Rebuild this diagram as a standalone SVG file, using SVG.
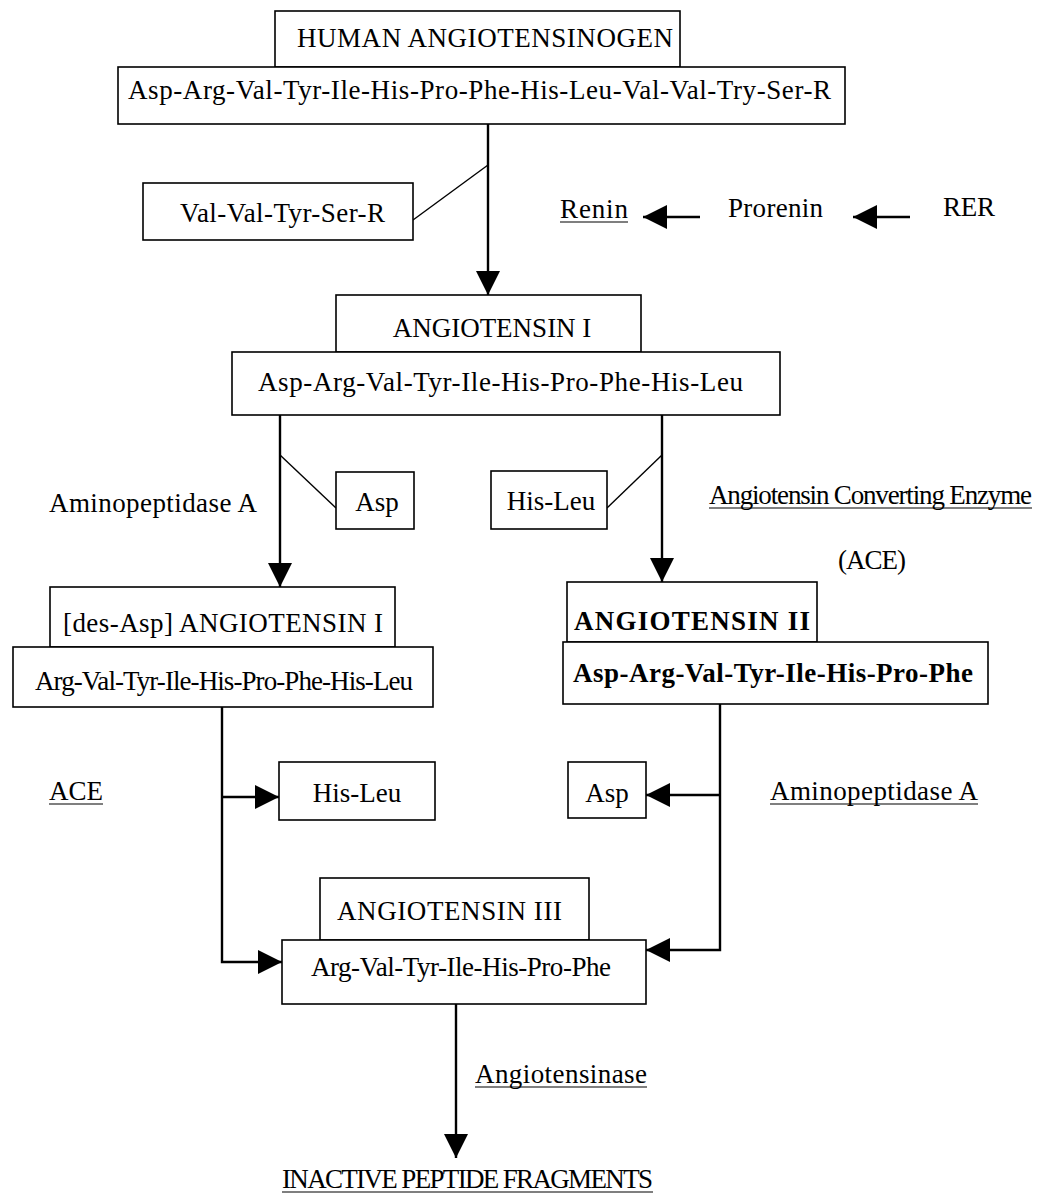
<svg xmlns="http://www.w3.org/2000/svg" width="1041" height="1202" viewBox="0 0 1041 1202">
<defs>
<marker id="ah" viewBox="0 0 24 24" refX="24" refY="12" markerWidth="24" markerHeight="24" markerUnits="userSpaceOnUse" orient="auto">
<path d="M0,0 L24,12 L0,24 z" fill="#000"/>
</marker>
</defs>
<style>
rect{fill:#fff;stroke:#000;stroke-width:1.6}
text{font-family:"Liberation Serif","Times New Roman",serif;font-size:27px;fill:#000}
.b{font-weight:bold}
.c{stroke:#000;stroke-width:2.4;fill:none}
.t{stroke:#000;stroke-width:1.4;fill:none}
.u{stroke:#000;stroke-width:1.2}
</style>
<rect width="1041" height="1202" style="fill:#fff;stroke:none"/>
<g id="connectors">
<line class="c" x1="488" y1="124" x2="488" y2="295" marker-end="url(#ah)"/>
<line class="t" x1="488" y1="165" x2="413" y2="220"/>
<line class="c" x1="700" y1="217" x2="643" y2="217" marker-end="url(#ah)"/>
<line class="c" x1="910" y1="217" x2="853" y2="217" marker-end="url(#ah)"/>
<line class="c" x1="280" y1="415" x2="280" y2="587" marker-end="url(#ah)"/>
<line class="t" x1="280" y1="455" x2="336" y2="508"/>
<line class="c" x1="662" y1="415" x2="662" y2="582" marker-end="url(#ah)"/>
<line class="t" x1="662" y1="455" x2="607" y2="508"/>
<polyline class="c" points="222,707 222,962 282,962" marker-end="url(#ah)"/>
<line class="c" x1="222" y1="797" x2="279" y2="797" marker-end="url(#ah)"/>
<polyline class="c" points="720,704 720,950 646,950" marker-end="url(#ah)"/>
<line class="c" x1="720" y1="795" x2="646" y2="795" marker-end="url(#ah)"/>
<line class="c" x1="456" y1="1004" x2="456" y2="1158" marker-end="url(#ah)"/>
</g>
<g id="n-human">
<rect x="275" y="11" width="405" height="56"/>
<text x="297" y="47" textLength="376" font-size="26">HUMAN ANGIOTENSINOGEN</text>
</g>
<g id="n-agt-seq">
<rect x="118" y="67" width="727" height="57"/>
<text x="128" y="99" textLength="703" font-size="28">Asp-Arg-Val-Tyr-Ile-His-Pro-Phe-His-Leu-Val-Val-Try-Ser-R</text>
</g>
<g id="n-valval">
<rect x="143" y="183" width="270" height="57"/>
<text x="180" y="222" textLength="205">Val-Val-Tyr-Ser-R</text>
</g>
<g id="n-renin">
<text x="560" y="218" textLength="68">Renin</text>
<line class="u" x1="560" y1="222" x2="628" y2="222"/>
</g>
<g id="n-prorenin"><text x="728" y="217" textLength="95">Prorenin</text></g>
<g id="n-rer"><text x="943" y="216" textLength="52">RER</text></g>
<g id="n-ang1">
<rect x="336" y="295" width="305" height="57"/>
<text x="492" y="337" text-anchor="middle" font-size="25">ANGIOTENSIN I</text>
</g>
<g id="n-ang1-seq">
<rect x="232" y="352" width="548" height="63"/>
<text x="258" y="391" textLength="485" font-size="28">Asp-Arg-Val-Tyr-Ile-His-Pro-Phe-His-Leu</text>
</g>
<g id="n-apa1"><text x="49" y="512" textLength="208">Aminopeptidase A</text></g>
<g id="n-asp1">
<rect x="336" y="472" width="78" height="57"/>
<text x="377" y="511" text-anchor="middle">Asp</text>
</g>
<g id="n-hisleu1">
<rect x="491" y="471" width="116" height="58"/>
<text x="551" y="510" text-anchor="middle">His-Leu</text>
</g>
<g id="n-ace-full">
<text x="709" y="504" textLength="323" font-size="24.5">Angiotensin Converting Enzyme</text>
<line class="u" x1="709" y1="508" x2="1032" y2="508"/>
</g>
<g id="n-ace-abbr"><text x="838" y="569" textLength="68">(ACE)</text></g>
<g id="n-desasp">
<rect x="50" y="587" width="345" height="60"/>
<text x="63" y="632" textLength="320">[des-Asp] ANGIOTENSIN I</text>
</g>
<g id="n-desasp-seq">
<rect x="13" y="647" width="420" height="60"/>
<text x="35" y="690" textLength="378" font-size="24.6">Arg-Val-Tyr-Ile-His-Pro-Phe-His-Leu</text>
</g>
<g id="n-ang2">
<rect x="567" y="582" width="250" height="60"/>
<text x="574" y="630" textLength="236" class="b" font-size="27">ANGIOTENSIN II</text>
</g>
<g id="n-ang2-seq">
<rect x="563" y="642" width="425" height="62"/>
<text x="573" y="682" textLength="400" class="b" font-size="27.6">Asp-Arg-Val-Tyr-Ile-His-Pro-Phe</text>
</g>
<g id="n-ace2">
<text x="49" y="800" textLength="54">ACE</text>
<line class="u" x1="49" y1="804" x2="103" y2="804"/>
</g>
<g id="n-hisleu2">
<rect x="279" y="762" width="156" height="58"/>
<text x="357" y="802" text-anchor="middle">His-Leu</text>
</g>
<g id="n-asp2">
<rect x="568" y="762" width="78" height="56"/>
<text x="607" y="802" text-anchor="middle">Asp</text>
</g>
<g id="n-apa2">
<text x="770" y="800" textLength="208">Aminopeptidase A</text>
<line class="u" x1="770" y1="804" x2="978" y2="804"/>
</g>
<g id="n-ang3">
<rect x="320" y="878" width="269" height="62"/>
<text x="337" y="920" textLength="225">ANGIOTENSIN III</text>
</g>
<g id="n-ang3-seq">
<rect x="282" y="940" width="364" height="64"/>
<text x="311" y="976" textLength="300" font-size="25.5">Arg-Val-Tyr-Ile-His-Pro-Phe</text>
</g>
<g id="n-angiotensinase">
<text x="475" y="1083" textLength="172">Angiotensinase</text>
<line class="u" x1="475" y1="1087" x2="647" y2="1087"/>
</g>
<g id="n-inactive">
<text x="282" y="1188" textLength="371" font-size="25">INACTIVE PEPTIDE FRAGMENTS</text>
<line class="u" x1="282" y1="1192" x2="653" y2="1192"/>
</g>
</svg>
